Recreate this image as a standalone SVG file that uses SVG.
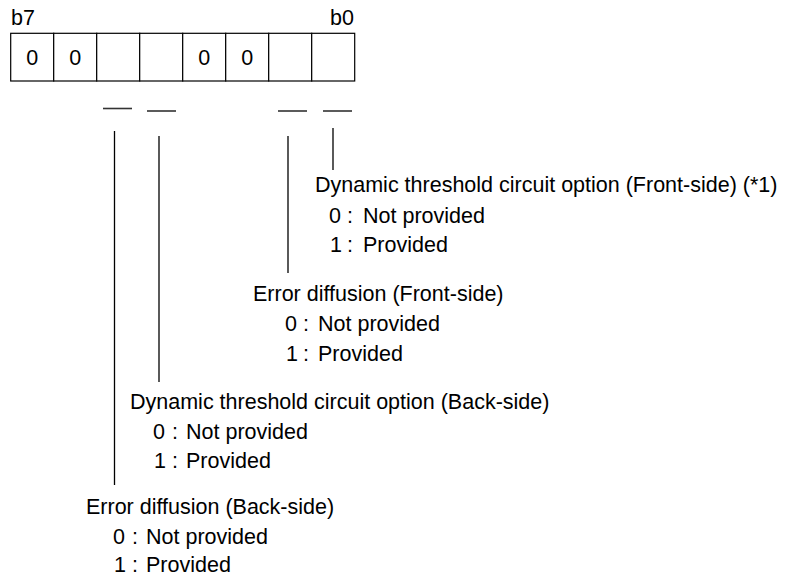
<svg xmlns="http://www.w3.org/2000/svg" width="789" height="578" viewBox="0 0 789 578">
<style>
text{font-family:"Liberation Sans",Arial,sans-serif;font-size:21.5px;fill:#000}
.c{text-anchor:middle}
.e{text-anchor:end}
.cell{fill:#fff;stroke:#000;stroke-width:1.2}
.ln{stroke:#000;stroke-width:1.3;fill:none}
.us{stroke:#333;stroke-width:1.6;fill:none}
</style>
<rect width="789" height="578" fill="#fff"/>
<g id="register">
<text x="11" y="25">b7</text>
<text x="354" y="25" class="e">b0</text>
<rect class="cell" x="10.7" y="33.3" width="43" height="47.7"/>
<rect class="cell" x="53.7" y="33.3" width="43" height="47.7"/>
<rect class="cell" x="96.7" y="33.3" width="43" height="47.7"/>
<rect class="cell" x="139.7" y="33.3" width="43" height="47.7"/>
<rect class="cell" x="182.7" y="33.3" width="43" height="47.7"/>
<rect class="cell" x="225.7" y="33.3" width="43" height="47.7"/>
<rect class="cell" x="268.7" y="33.3" width="43" height="47.7"/>
<rect class="cell" x="311.7" y="33.3" width="43" height="47.7"/>
<text x="32.2" y="65" class="c">0</text>
<text x="75.2" y="65" class="c">0</text>
<text x="204.2" y="65" class="c">0</text>
<text x="247.2" y="65" class="c">0</text>
</g>
<g id="connectors">
<line class="us" x1="103" y1="108.5" x2="132" y2="108.5"/>
<line class="us" x1="147" y1="111" x2="176" y2="111"/>
<line class="us" x1="278" y1="111" x2="307" y2="111"/>
<line class="us" x1="323" y1="111" x2="352" y2="111"/>
<line class="ln" x1="114.5" y1="131" x2="114.5" y2="485"/>
<line class="ln" x1="159" y1="136" x2="159" y2="382"/>
<line class="ln" x1="288" y1="136" x2="288" y2="273"/>
<line class="ln" x1="333" y1="128" x2="333" y2="170"/>
</g>
<g id="bit0">
<text x="315" y="192">Dynamic threshold circuit option (Front-side) (*1)</text>
<text x="329" y="222.5">0</text><text x="347" y="222.5">:</text><text x="363" y="222.5">Not provided</text>
<text x="330" y="252">1</text><text x="347" y="252">:</text><text x="363" y="252">Provided</text>
</g>
<g id="bit1">
<text x="253" y="301">Error diffusion (Front-side)</text>
<text x="285" y="331">0</text><text x="303" y="331">:</text><text x="318" y="331">Not provided</text>
<text x="286" y="360.5">1</text><text x="303" y="360.5">:</text><text x="318" y="360.5">Provided</text>
</g>
<g id="bit4">
<text x="130" y="409">Dynamic threshold circuit option (Back-side)</text>
<text x="153" y="438.5">0</text><text x="172" y="438.5">:</text><text x="186" y="438.5">Not provided</text>
<text x="154" y="468">1</text><text x="172" y="468">:</text><text x="186" y="468">Provided</text>
</g>
<g id="bit5">
<text x="86" y="514">Error diffusion (Back-side)</text>
<text x="113" y="543.5">0</text><text x="132" y="543.5">:</text><text x="146" y="543.5">Not provided</text>
<text x="114" y="572">1</text><text x="132" y="572">:</text><text x="146" y="572">Provided</text>
</g>
</svg>
